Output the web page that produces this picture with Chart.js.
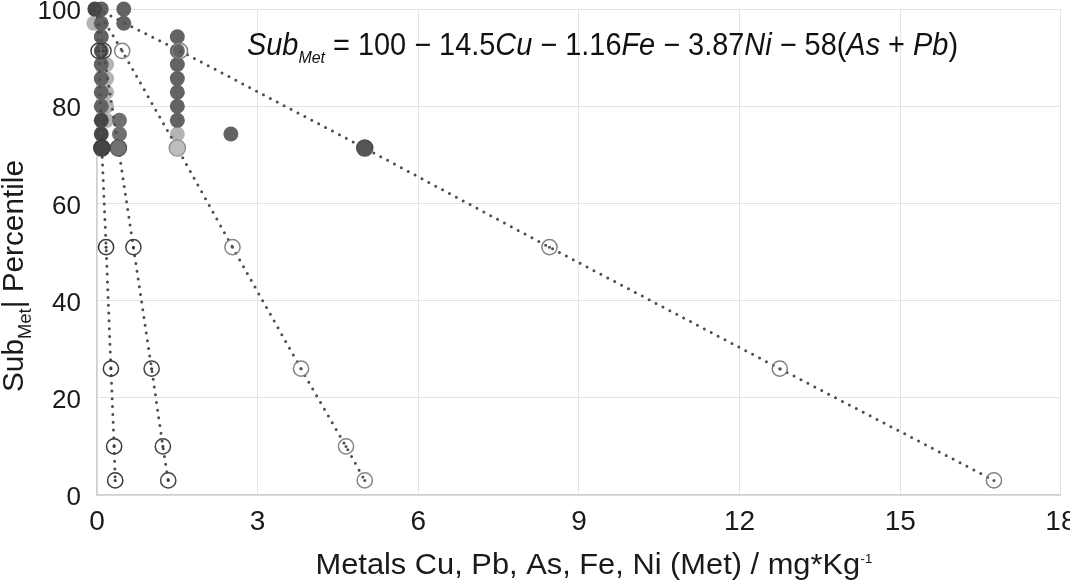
<!DOCTYPE html>
<html>
<head>
<meta charset="utf-8">
<script src="https://cdn.jsdelivr.net/npm/chart.js@4.4.1/dist/chart.umd.min.js"></script>
<style>
  html, body { margin: 0; padding: 0; background: #ffffff; }
  #wrap { width: 1070px; height: 582px; position: relative; }
</style>
</head>
<body>
<div id="wrap"><canvas id="c" width="1070" height="582"></canvas></div>
<script>
// ---------- DATA ----------
const xTicks = [0, 3, 6, 9, 12, 15, 18];
const yTicks = [0, 20, 40, 60, 80, 100];

// Upper percentiles shown as filled points
const medX  = [0.08, 0.08, 0.08, 0.08, 0.08, 0.08, 0.08, 0.08, 0.5, 0.5, 1.5, 1.5, 1.5, 1.5, 1.5, 1.5, 1.5, 2.5];
const medY  = [100, 97.1, 94.3, 91.4, 88.6, 85.7, 82.9, 80.0, 100, 97.1, 94.3, 91.4, 88.6, 85.7, 82.9, 80.0, 77.1, 74.3];
const darkX = [-0.04, 0.08, 0.08];
const darkY = [100, 77.1, 74.3];
const lightX = [-0.06, -0.06, 0.18, 0.18, 0.18, 0.18, 0.18, 1.5];
const lightY = [100, 97.1, 88.6, 85.7, 82.9, 80.0, 77.1, 74.3];
const midX = [0.42, 0.42];
const midY = [77.1, 74.3];

// Fitted percentile lines (open circles)
const fitY  = [100, 91.4, 71.4, 51, 26, 10, 3];
const fit1X = [0, 0.03, 0.09, 0.17, 0.26, 0.32, 0.34];
const fit2X = [0, 0.12, 0.40, 0.68, 1.02, 1.23, 1.33];
const fit3X = [0, 0.47, 1.50, 2.53, 3.81, 4.65, 5.00];
const fit4Y = [100, 91.4, 71.4, 51, 26, 3];
const fit4X = [0, 1.55, 5.00, 8.45, 12.75, 16.75];

// Text
const equationParts = [
  { t: 'Sub', it: true }, { t: 'Met', it: true, sub: true },
  { t: ' = 100 \u2212 14.5' }, { t: 'Cu', it: true },
  { t: ' \u2212 1.16' }, { t: 'Fe', it: true },
  { t: ' \u2212 3.87' }, { t: 'Ni', it: true },
  { t: ' \u2212 58(' }, { t: 'As', it: true },
  { t: ' + ' }, { t: 'Pb', it: true }, { t: ')' }
];
const yTitleParts = [{ t: 'Sub' }, { t: 'Met', sub: true }, { t: '| Percentile' }];
const xTitleParts = [{ t: 'Metals Cu, Pb, As, Fe, Ni (Met) / mg*Kg' }, { t: '-1', sup: true }];

// ---------- HELPERS ----------
const zip = (xs, ys) => xs.map((x, i) => ({ x: x, y: ys[i] }));
const FONT = '"Liberation Sans", Arial, Helvetica, sans-serif';

function drawRich(ctx, parts, o) {
  const size = o.size;
  const fontFor = p => (p.it ? 'italic ' : '') + Math.round((p.sub || p.sup ? size * o.subScale : size) * 10) / 10 + 'px ' + FONT;
  let total = 0;
  const widths = parts.map(p => { ctx.font = fontFor(p); const w = ctx.measureText(p.t).width; total += w; return w; });
  const sx = o.width ? o.width / total : 1;
  ctx.save();
  ctx.translate(o.x, o.y);
  if (o.rotate) ctx.rotate(-Math.PI / 2);
  ctx.scale(sx, 1);
  ctx.fillStyle = o.color || '#111';
  ctx.textBaseline = 'alphabetic';
  ctx.textAlign = 'left';
  let cx = o.align === 'center' ? -total / 2 : 0;
  parts.forEach((p, i) => {
    ctx.font = fontFor(p);
    const dy = p.sub ? o.subDy : (p.sup ? o.supDy : 0);
    ctx.fillText(p.t, cx, dy);
    cx += widths[i];
  });
  ctx.restore();
}

const textPlugin = {
  id: 'richText',
  afterDraw(chart) {
    const ctx = chart.ctx;
    drawRich(ctx, equationParts, { x: 247, y: 55, size: 31, subScale: 0.55, subDy: 8, width: 711, color: '#111' });
    drawRich(ctx, yTitleParts, { x: 23, y: 276, size: 30, subScale: 0.62, subDy: 8, width: 232, rotate: true, align: 'center', color: '#1a1a1a' });
    drawRich(ctx, xTitleParts, { x: 594, y: 574, size: 30, subScale: 0.45, supDy: -11, width: 557, align: 'center', color: '#1a1a1a' });
  }
};

const dotLine = {
  showLine: true,
  borderColor: '#4d4d4d',
  borderWidth: 3,
  borderDash: [0, 7.8],
  borderCapStyle: 'round',
  fill: false,
  tension: 0
};

function fitDataset(xs, ys, ringColor, bigFill, bigBorder, order) {
  return Object.assign({}, dotLine, {
    data: zip(xs, ys),
    order: order,
    pointRadius: ys.map(v => v === 100 ? 0 : (v === 71.4 ? 8.2 : 7.6)),
    pointBorderWidth: ys.map(v => v === 71.4 ? 1.2 : 1.5),
    pointBackgroundColor: ys.map(v => v === 71.4 ? bigFill : 'rgba(0,0,0,0)'),
    pointBorderColor: ys.map(v => v === 71.4 ? bigBorder : ringColor)
  });
}
function centerDots(xs, ys, color, order) {
  return {
    data: zip(xs, ys),
    order: order,
    pointRadius: ys.map(v => (v === 100 || v === 71.4) ? 0 : 1.5),
    pointBorderWidth: 0,
    pointBackgroundColor: color,
    showLine: false
  };
}
function filled(xs, ys, color, order) {
  return {
    data: zip(xs, ys),
    order: order,
    pointRadius: 7.5,
    pointBorderWidth: 0,
    pointBackgroundColor: color,
    showLine: false
  };
}

const datasets = [
  centerDots(fit1X, fitY, '#3a3a3a', 0),
  centerDots(fit2X, fitY, '#3a3a3a', 0),
  centerDots(fit3X, fitY, '#555555', 0),
  centerDots(fit4X, fit4Y, '#555555', 0),
  fitDataset(fit1X, fitY, '#3a3a3a', '#454545', '#3a3a3a', 1),
  fitDataset(fit2X, fitY, '#444444', '#727272', '#555555', 1),
  fitDataset(fit3X, fitY, '#858585', '#bdbdbd', '#8a8a8a', 1),
  fitDataset(fit4X, fit4Y, '#808080', '#555555', '#4a4a4a', 1),
  filled(darkX, darkY, '#464646', 2),
  filled(midX, midY, '#707070', 2),
  filled(medX, medY, '#636363', 3),
  filled(lightX, lightY, '#b4b4b4', 4)
];

new Chart(document.getElementById('c'), {
  type: 'scatter',
  data: { datasets: datasets },
  plugins: [textPlugin],
  options: {
    responsive: false,
    animation: false,
    devicePixelRatio: 1,
    clip: false,
    layout: { padding: { top: 8, right: 7, left: 0, bottom: 0 } },
    plugins: { legend: { display: false }, tooltip: { enabled: false } },
    elements: { point: { hoverRadius: 0 } },
    scales: {
      x: {
        type: 'linear', min: 0, max: 18,
        afterBuildTicks: s => { s.ticks = xTicks.map(v => ({ value: v })); },
        ticks: { font: { size: 28, family: FONT }, color: '#1a1a1a', padding: 10, maxRotation: 0 },
        grid: { color: '#e4e4e4', lineWidth: 1, drawTicks: false },
        border: { color: '#cfcfcf', width: 1.5 },
        afterFit: s => { s.height = 87; s.paddingLeft = 0; s.paddingRight = 0; }
      },
      y: {
        type: 'linear', min: 0, max: 100,
        afterBuildTicks: s => { s.ticks = yTicks.map(v => ({ value: v })); },
        ticks: { font: { size: 26, family: FONT }, color: '#1a1a1a', padding: 16, labelOffset: 3 },
        grid: { color: '#e4e4e4', lineWidth: 1, drawTicks: false },
        border: { color: '#cfcfcf', width: 1.5 },
        afterFit: s => { s.width = 97; s.paddingTop = 0; s.paddingBottom = 0; }
      }
    }
  }
});
</script>
</body>
</html>
